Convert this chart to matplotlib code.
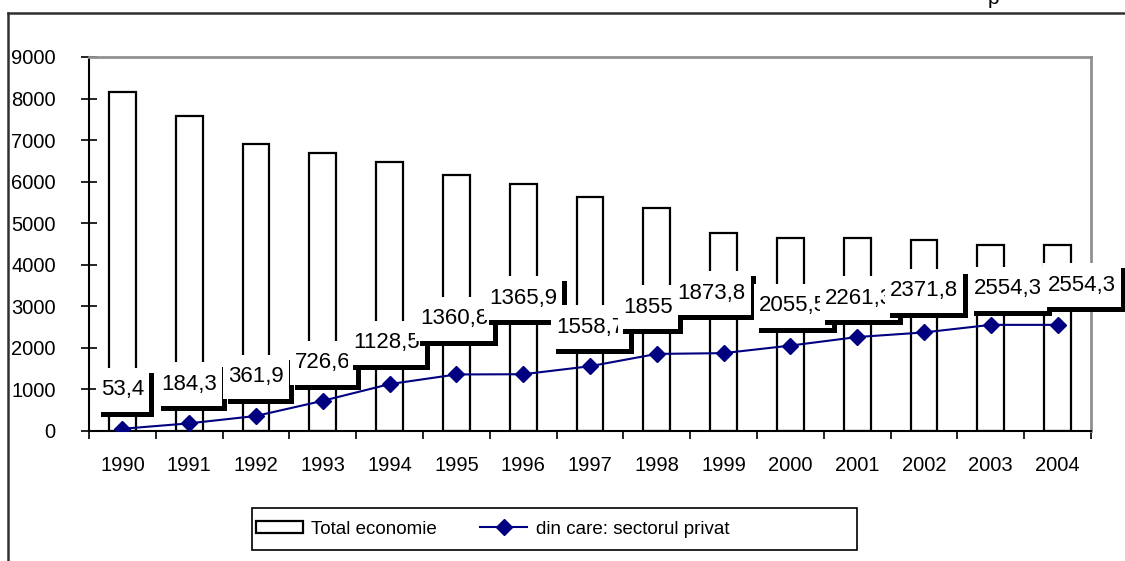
import matplotlib
matplotlib.use("Agg")
import matplotlib.pyplot as plt
import matplotlib.transforms as mtransforms
from matplotlib.lines import Line2D
from matplotlib.patches import Rectangle, Patch
import numpy as np

years = ["1990", "1991", "1992", "1993", "1994", "1995", "1996", "1997",
         "1998", "1999", "2000", "2001", "2002", "2003", "2004"]
total = [8150, 7580, 6910, 6690, 6470, 6160, 5940, 5630, 5370, 4770,
         4640, 4640, 4600, 4470, 4470]
private = [53.4, 184.3, 361.9, 726.6, 1128.5, 1360.8, 1365.9, 1558.7,
           1855, 1873.8, 2055.5, 2261.3, 2371.8, 2554.3, 2554.3]

# where Excel dropped the data labels (data coords)
label_x = [0, 1.0, 2.0, 3.0, 3.95, 4.97, 6.0, 7.0, 7.87, 8.82, 10.04,
           11.03, 12.0, 13.26, 14.36]
label_y = [990, 1130, 1300, 1640, 2120, 2700, 3200, 2500, 2980, 3320,
           3010, 3200, 3370, 3420, 3510]

plt.rcParams["font.family"] = ["Liberation Sans", "DejaVu Sans"]

fig = plt.figure(figsize=(11.25, 5.61), dpi=100)
ax = fig.add_axes([89 / 1125, 1 - 431 / 561, (1091 - 89) / 1125, (431 - 57) / 561])

x = np.arange(len(years))
ax.bar(x, total, width=0.4, color="white", edgecolor="black",
       linewidth=1.6, zorder=2)
line, = ax.plot(x, private, color="#000080", linewidth=1.5, marker="D",
                markersize=8, zorder=3)

ax.set_xlim(-0.5, 14.5)
ax.set_ylim(0, 9000)
ax.set_yticks(np.arange(0, 9001, 1000))
ax.set_xticks(x)
ax.set_xticklabels(years)
ax.set_xticks(np.arange(-0.5, 15, 1), minor=True)
ax.tick_params(axis="x", which="major", length=0, pad=18, labelsize=14.5)
ax.tick_params(axis="x", which="minor", length=6, width=1.2, direction="out")
ax.tick_params(axis="y", direction="inout", length=12, width=1.2, pad=18,
               labelsize=14.5)

for s in ["left", "bottom"]:
    ax.spines[s].set_linewidth(1.5)
for s in ["top", "right"]:
    ax.spines[s].set_color("#909090")
    ax.spines[s].set_linewidth(2)

# data labels: white box with a black drop shadow, later ones on top
renderer = fig.canvas.get_renderer()
for i, v in enumerate(private):
    txt = f"{v:g}".replace(".", ",")
    t = ax.text(label_x[i], label_y[i], txt, ha="center", va="center",
                fontsize=16, color="black", clip_on=False, zorder=6 + 3 * i)
    w = t.get_window_extent(renderer).width + 10
    h = 44
    anchor = mtransforms.ScaledTranslation(label_x[i], label_y[i], ax.transData)
    ax.add_patch(Rectangle((-w / 2 + 5, -h / 2 - 5), w, h, transform=anchor,
                           fc="black", ec="none", clip_on=False, zorder=4 + 3 * i))
    ax.add_patch(Rectangle((-w / 2, -h / 2), w, h, transform=anchor,
                           fc="white", ec="none", clip_on=False, zorder=5 + 3 * i))

# outer chart frame
fig.add_artist(Line2D([8 / 1125, 1], [1 - 13 / 561, 1 - 13 / 561], color="#303030", lw=1.8))
fig.add_artist(Line2D([8 / 1125, 8 / 1125], [0, 1 - 13 / 561], color="#303030", lw=1.8))
fig.text(993 / 1125, 1 - 4 / 561, "p", fontsize=15, ha="center", va="baseline")

# legend box
fig.add_artist(Rectangle((252 / 1125, 1 - 550 / 561), (857 - 252) / 1125, 42 / 561,
                         transform=fig.transFigure, fill=False, ec="black", lw=1.2))
handles = [Patch(facecolor="white", edgecolor="black", linewidth=1.6), line]
fig.legend(handles, ["Total economie", "din care: sectorul privat"],
           loc="center left", bbox_to_anchor=(256 / 1125, 1 - 529 / 561),
           ncol=2, frameon=False, prop={"size": 13.5},
           handlelength=2.5, handleheight=0.6, handletextpad=0.45,
           columnspacing=2.3, borderaxespad=0, borderpad=0)

fig.savefig("out.png", dpi=100)
